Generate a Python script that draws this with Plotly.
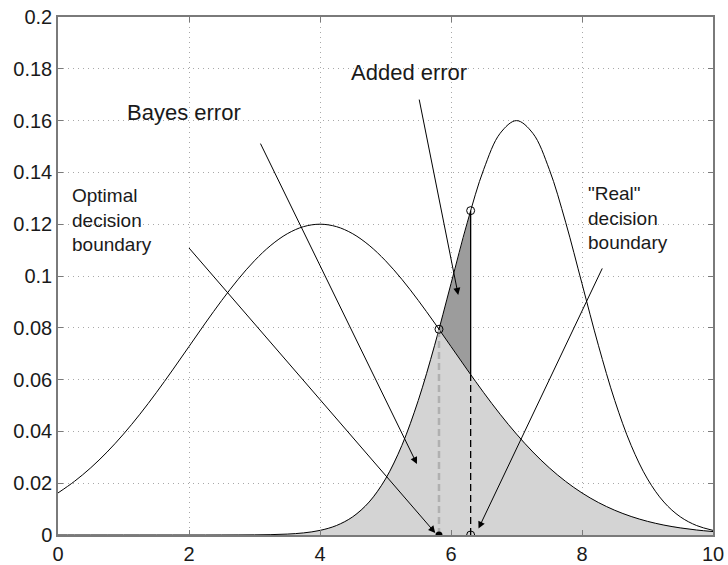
import plotly.graph_objects as go

# Sample positions along the feature axis
XS = [0, 0.25, 0.5, 0.75, 1.0, 1.25, 1.5, 1.75, 2.0, 2.25, 2.5, 2.75, 3.0, 3.25,
      3.5, 3.75, 4.0, 4.25, 4.5, 4.75, 5.0, 5.25, 5.5, 5.75, 6.0, 6.25, 6.5,
      6.75, 7.0, 7.25, 7.5, 7.75, 8.0, 8.25, 8.5, 8.75, 9.0, 9.25, 9.5, 9.75, 10.0]

# Class 1 weighted density (wide, peak near x=4)
CLASS1 = [0.01624, 0.02069, 0.02595, 0.03205, 0.03896, 0.04663, 0.05494, 0.06373,
          0.07278, 0.08184, 0.09058, 0.09871, 0.10590, 0.11185, 0.11631, 0.11907,
          0.12000, 0.11907, 0.11631, 0.11185, 0.10590, 0.09871, 0.09058, 0.08184,
          0.07278, 0.06373, 0.05494, 0.04663, 0.03896, 0.03205, 0.02595, 0.02069,
          0.01624, 0.01255, 0.00955, 0.00715, 0.00527, 0.00383, 0.00274, 0.00193,
          0.00133]

# Class 2 weighted density (narrow, peak near x=7)
CLASS2 = [0, 0, 0, 0, 0, 0, 0, 0, 0, 0, 0.00001, 0.00002, 0.00005, 0.00014,
          0.00035, 0.00081, 0.00178, 0.00365, 0.00703, 0.01273, 0.02165, 0.03460,
          0.05194, 0.07325, 0.09704, 0.12077, 0.14120, 0.15508, 0.16000, 0.15508,
          0.14120, 0.12077, 0.09704, 0.07325, 0.05194, 0.03460, 0.02165, 0.01273,
          0.00703, 0.00365, 0.00178]

# Decision boundaries and the density values at them
OPT_X, OPT_Y = 5.8166, 0.07944           # where the two curves cross
REAL_X = 6.3
REAL_C1, REAL_C2 = 0.06194, 0.12523      # class 1 / class 2 at the "real" boundary
FILL_START = 2.5

LIGHT = "#d4d4d4"
DARK = "#9c9c9c"
TXT = "#1a1a1a"
FONT = "Liberation Sans, Arial, sans-serif"

fig = go.Figure()

# Bayes error region: under class 2 left of the optimal boundary, under class 1 right of it
bx, by = [], []
for x, y in zip(XS, CLASS2):
    if FILL_START <= x < OPT_X:
        bx.append(x); by.append(y)
bx.append(OPT_X); by.append(OPT_Y)
for x, y in zip(XS, CLASS1):
    if x > OPT_X:
        bx.append(x); by.append(y)
bx += [XS[-1], FILL_START]
by += [0, 0]
fig.add_trace(go.Scatter(x=bx, y=by, fill="toself", fillcolor=LIGHT, mode="lines",
                         line=dict(width=0), hoverinfo="skip", showlegend=False))

# Added error region: between the curves from the optimal to the real boundary
ax_, ay_ = [OPT_X], [OPT_Y]
for x, y in zip(XS, CLASS2):
    if OPT_X < x < REAL_X:
        ax_.append(x); ay_.append(y)
ax_ += [REAL_X, REAL_X]
ay_ += [REAL_C2, REAL_C1]
for x, y in reversed(list(zip(XS, CLASS1))):
    if OPT_X < x < REAL_X:
        ax_.append(x); ay_.append(y)
ax_.append(OPT_X); ay_.append(OPT_Y)
fig.add_trace(go.Scatter(x=ax_, y=ay_, fill="toself", fillcolor=DARK, mode="lines",
                         line=dict(width=0), hoverinfo="skip", showlegend=False))

# Density curves
for ys in (CLASS1, CLASS2):
    fig.add_trace(go.Scatter(x=XS, y=ys, mode="lines",
                             line=dict(color="black", width=1, shape="spline"),
                             hoverinfo="skip", showlegend=False))

# Boundary markers
fig.add_trace(go.Scatter(x=[OPT_X, OPT_X], y=[0, OPT_Y], mode="lines",
                         line=dict(color="#b0b0b0", width=2.5, dash="7px,4px"),
                         showlegend=False, hoverinfo="skip"))
fig.add_trace(go.Scatter(x=[REAL_X, REAL_X], y=[0, REAL_C1], mode="lines",
                         line=dict(color="black", width=1.3, dash="7px,4px"),
                         showlegend=False, hoverinfo="skip"))
fig.add_trace(go.Scatter(x=[REAL_X, REAL_X], y=[REAL_C1, REAL_C2], mode="lines",
                         line=dict(color="black", width=1.3),
                         showlegend=False, hoverinfo="skip"))
fig.add_trace(go.Scatter(x=[OPT_X, REAL_X, REAL_X], y=[OPT_Y, REAL_C2, 0], mode="markers",
                         marker=dict(symbol="circle-open", size=8, color="black",
                                     line=dict(width=1)),
                         showlegend=False, hoverinfo="skip"))
fig.add_trace(go.Scatter(x=[OPT_X], y=[0], mode="markers",
                         marker=dict(symbol="circle", size=7, color="black"),
                         showlegend=False, hoverinfo="skip"))

# Arrows: (tip x, tip y, tail x, tail y)
ARROWS = [
    (5.48, 0.0274, 3.08, 0.1517),   # Bayes error
    (6.11, 0.0927, 5.51, 0.1687),   # Added error
    (5.76, 0.0008, 1.98, 0.1114),   # Optimal decision boundary
    (6.42, 0.0025, 8.32, 0.1035),   # "Real" decision boundary
]
for tx, ty, sx, sy in ARROWS:
    fig.add_annotation(x=tx, y=ty, ax=sx, ay=sy, xref="x", yref="y", axref="x", ayref="y",
                       text="", showarrow=True, arrowhead=2, arrowsize=1.4,
                       arrowwidth=1, arrowcolor="black")

# Labels
LABELS = [
    (1.03, 0.1633, "Bayes error", 22),
    (4.44, 0.1785, "Added error", 22),
    (0.19, 0.1215, "Optimal<br>decision<br>boundary", 19),
    (8.06, 0.1225, "\"Real\"<br>decision<br>boundary", 19),
]
for x, y, t, s in LABELS:
    fig.add_annotation(x=x, y=y, xref="x", yref="y", text=t, showarrow=False,
                       xanchor="left", yanchor="middle", align="left",
                       font=dict(family=FONT, size=s, color=TXT))

axis_common = dict(showline=True, linecolor="#7a7a7a", linewidth=1.5, mirror="allticks",
                   ticks="inside", ticklen=5, tickcolor="#7a7a7a", tickwidth=1,
                   showgrid=True, gridcolor="#a8a8a8", griddash="1px,4px", gridwidth=1,
                   zeroline=False, automargin=False,
                   tickfont=dict(family=FONT, size=20, color=TXT))

fig.update_xaxes(range=[0, 10], tickvals=[0, 2, 4, 6, 8, 10], **axis_common)
fig.update_yaxes(range=[0, 0.2], tickvals=[0, 0.02, 0.04, 0.06, 0.08, 0.1, 0.12, 0.14, 0.16, 0.18, 0.2],
                 ticktext=["0", "0.02", "0.04", "0.06", "0.08", "0.1", "0.12", "0.14", "0.16", "0.18", "0.2"],
                 **axis_common)

fig.update_layout(width=728, height=565, margin=dict(l=58, r=15, t=17, b=30, pad=0),
                  plot_bgcolor="white", paper_bgcolor="white", showlegend=False)

fig.write_html("out.html")
